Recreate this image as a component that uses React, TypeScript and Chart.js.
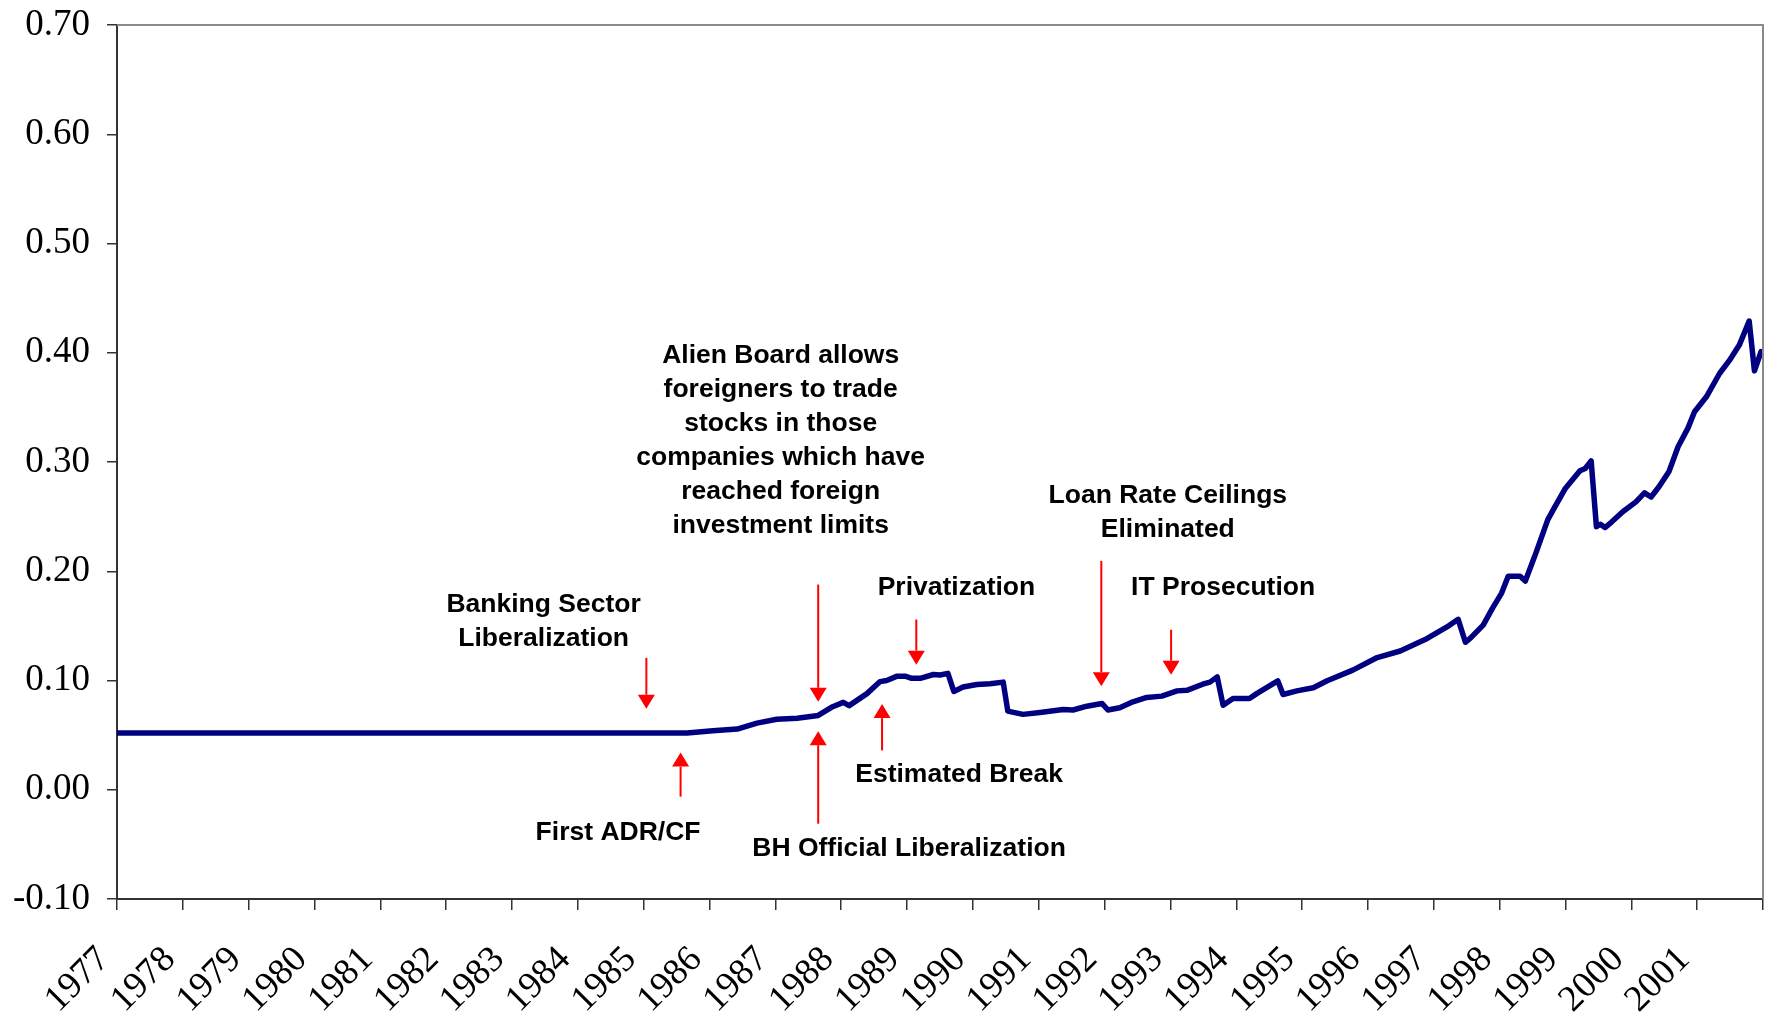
import React, { useEffect, useRef } from "react";
import { Chart, registerables } from "chart.js";

Chart.register(...registerables);

// Decimal-year dates and values of the series
const dates: number[] = [
  1977.0, 1985.66, 1986.05, 1986.42, 1986.72, 1987.02, 1987.33, 1987.65, 1987.87, 1988.03,
  1988.12, 1988.39, 1988.59, 1988.69, 1988.85, 1988.97, 1989.07, 1989.2, 1989.4, 1989.5,
  1989.62, 1989.71, 1989.85, 1990.06, 1990.26, 1990.46, 1990.53, 1990.76, 1991.02, 1991.37,
  1991.52, 1991.73, 1991.96, 1992.05, 1992.23, 1992.43, 1992.64, 1992.87, 1993.1, 1993.25,
  1993.49, 1993.6, 1993.71, 1993.8, 1993.95, 1994.2, 1994.31, 1994.63, 1994.71, 1994.92,
  1995.17, 1995.38, 1995.77, 1996.14, 1996.49, 1996.9, 1997.2, 1997.37, 1997.48, 1997.56,
  1997.75, 1997.89, 1998.03, 1998.13, 1998.31, 1998.39, 1998.55, 1998.73, 1998.83, 1999.0,
  1999.22, 1999.3, 1999.39, 1999.47, 1999.53, 1999.6, 1999.7, 1999.87, 2000.07, 2000.2,
  2000.3, 2000.42, 2000.57, 2000.71, 2000.86, 2000.96, 2001.14, 2001.34, 2001.49, 2001.64,
  2001.79, 2001.87, 2001.97,
];
const values: number[] = [
  0.052, 0.052, 0.054, 0.0555, 0.061, 0.0645, 0.0655, 0.068, 0.076, 0.08,
  0.077, 0.088, 0.099, 0.1, 0.104, 0.104, 0.102, 0.102, 0.1055, 0.105,
  0.1065, 0.09, 0.094, 0.0964, 0.097, 0.0985, 0.072, 0.069, 0.0708, 0.0735,
  0.073, 0.0765, 0.079, 0.073, 0.075, 0.0805, 0.0845, 0.0857, 0.0905, 0.091,
  0.0966, 0.0985, 0.1033, 0.0774, 0.0835, 0.0835, 0.088, 0.0997, 0.0872, 0.0905,
  0.0933, 0.0997, 0.1095, 0.121, 0.127, 0.1385, 0.149, 0.156, 0.135, 0.139,
  0.1507, 0.166, 0.18, 0.1955, 0.1955, 0.191, 0.2166, 0.247, 0.258, 0.276,
  0.292, 0.294, 0.301, 0.2407, 0.243, 0.24, 0.245, 0.2544, 0.2635, 0.2718,
  0.268, 0.2773, 0.291, 0.314, 0.331, 0.346, 0.3597, 0.381, 0.393, 0.407,
  0.429, 0.3834, 0.401,
];

// Year tick labels (ticks at each year boundary; the last boundary, 2002, is unlabeled)
const yearLabels: string[] = [
  "1977", "1978", "1979", "1980", "1981", "1982", "1983", "1984", "1985", "1986",
  "1987", "1988", "1989", "1990", "1991", "1992", "1993", "1994", "1995", "1996",
  "1997", "1998", "1999", "2000", "2001",
];

// Annotation texts (anchor in data units: year, value of first line centre)
const noteTexts: string[][] = [
  ["Banking Sector", "Liberalization"],
  ["First ADR/CF"],
  ["Alien Board allows", "foreigners to trade", "stocks in those", "companies which have", "reached foreign", "investment limits"],
  ["BH Official Liberalization"],
  ["Privatization"],
  ["Estimated Break"],
  ["Loan Rate Ceilings", "Eliminated"],
  ["IT Prosecution"],
];
const noteX: number[] = [1983.48, 1984.61, 1987.08, 1989.03, 1989.75, 1989.79, 1992.96, 1993.8];
const noteY: number[] = [0.1692, -0.0394, 0.3974, -0.0538, 0.1847, 0.0134, 0.2694, 0.1847];

// Arrows: x (year), tail value, head (tip) value
const arrowX: number[] = [1985.04, 1985.56, 1987.65, 1987.65, 1989.14, 1988.62, 1991.95, 1993.01];
const arrowFrom: number[] = [0.1207, -0.0063, 0.1878, -0.0311, 0.1558, 0.036, 0.2095, 0.1465];
const arrowTo: number[] = [0.0742, 0.034, 0.0805, 0.0536, 0.1145, 0.0784, 0.0948, 0.1052];

const annotationPlugin = {
  id: "notes",
  afterDatasetsDraw(chart: any) {
    const ctx = chart.ctx;
    const xs = chart.scales.x;
    const ys = chart.scales.y;
    const area = chart.chartArea;
    ctx.save();
    // frame (top and right) in gray
    ctx.strokeStyle = "#8a8a8a";
    ctx.lineWidth = 2;
    ctx.beginPath();
    ctx.moveTo(area.left, area.top);
    ctx.lineTo(area.right, area.top);
    ctx.lineTo(area.right, area.bottom);
    ctx.stroke();

    // arrows
    ctx.strokeStyle = "#ff0000";
    ctx.fillStyle = "#ff0000";
    for (let i = 0; i < arrowX.length; i++) {
      const x = xs.getPixelForValue(arrowX[i]);
      const y0 = ys.getPixelForValue(arrowFrom[i]);
      const y1 = ys.getPixelForValue(arrowTo[i]);
      const dir = y1 > y0 ? 1 : -1;
      const headLen = 14;
      const headHalf = 8.5;
      ctx.lineWidth = 2;
      ctx.beginPath();
      ctx.moveTo(x, y0);
      ctx.lineTo(x, y1 - dir * headLen);
      ctx.stroke();
      ctx.beginPath();
      ctx.moveTo(x, y1);
      ctx.lineTo(x - headHalf, y1 - dir * headLen);
      ctx.lineTo(x + headHalf, y1 - dir * headLen);
      ctx.closePath();
      ctx.fill();
    }

    // texts
    ctx.fillStyle = "#000000";
    ctx.font = "bold 26.5px 'Liberation Sans', Arial, sans-serif";
    ctx.textAlign = "center";
    ctx.textBaseline = "middle";
    const lineH = 34;
    for (let i = 0; i < noteTexts.length; i++) {
      const x = xs.getPixelForValue(noteX[i]);
      const y = ys.getPixelForValue(noteY[i]);
      noteTexts[i].forEach((t, j) => ctx.fillText(t, x, y + j * lineH));
    }
    ctx.restore();
  },
};

export default function App() {
  const ref = useRef<HTMLCanvasElement | null>(null);
  useEffect(() => {
    if (!ref.current) return;
    const data = dates.map((d, i) => ({ x: d, y: values[i] }));
    const chart = new Chart(ref.current, {
      type: "line",
      data: {
        datasets: [
          {
            data,
            borderColor: "#000080",
            borderWidth: 5.5,
            pointRadius: 0,
            tension: 0,
            borderJoinStyle: "round",
            borderCapStyle: "round",
            fill: false,
          },
        ],
      },
      options: {
        animation: false,
        responsive: true,
        maintainAspectRatio: false,
        layout: { padding: { left: 0, top: 25, right: 6, bottom: 0 } },
        plugins: { legend: { display: false }, tooltip: { enabled: false } },
        scales: {
          x: {
            type: "linear",
            min: 1977,
            max: 2002,
            afterFit(scale: any) {
              scale.height = 113;
              scale.paddingLeft = 0;
              scale.paddingRight = 0;
            },
            afterBuildTicks(scale: any) {
              const t = [];
              for (let i = 0; i <= yearLabels.length; i++) t.push({ value: 1977 + i });
              scale.ticks = t;
            },
            border: { display: true, color: "#333333", width: 2 },
            grid: {
              display: true,
              drawOnChartArea: false,
              drawTicks: true,
              tickLength: 11,
              color: "#333333",
              lineWidth: 1.5,
            },
            ticks: {
              autoSkip: false,
              minRotation: 45,
              maxRotation: 45,
              padding: 28,
              labelOffset: -13,
              color: "#000000",
              font: { family: "'Liberation Serif', 'Times New Roman', serif", size: 37 },
              callback(v: any) {
                const idx = Math.round(Number(v)) - 1977;
                return yearLabels[idx] ?? "";
              },
            },
          },
          y: {
            min: -0.1,
            max: 0.7,
            afterFit(scale: any) {
              scale.width = 117;
              scale.paddingTop = 0;
              scale.paddingBottom = 0;
            },
            border: { display: true, color: "#333333", width: 2 },
            grid: {
              display: true,
              drawOnChartArea: false,
              drawTicks: true,
              tickLength: 10,
              color: "#333333",
              lineWidth: 1.5,
            },
            ticks: {
              stepSize: 0.1,
              padding: 17,
              color: "#000000",
              font: { family: "'Liberation Serif', 'Times New Roman', serif", size: 37 },
              callback(v: any) {
                const n = Number(v);
                return (Math.abs(n) < 1e-9 ? 0 : n).toFixed(2);
              },
            },
          },
        },
      },
      plugins: [annotationPlugin],
    } as any);
    return () => chart.destroy();
  }, []);
  return (
    <div
      style={{
        position: "absolute",
        left: 0,
        top: 0,
        width: 1769,
        height: 1012,
        background: "#ffffff",
      }}
    >
      <canvas ref={ref} />
    </div>
  );
}
